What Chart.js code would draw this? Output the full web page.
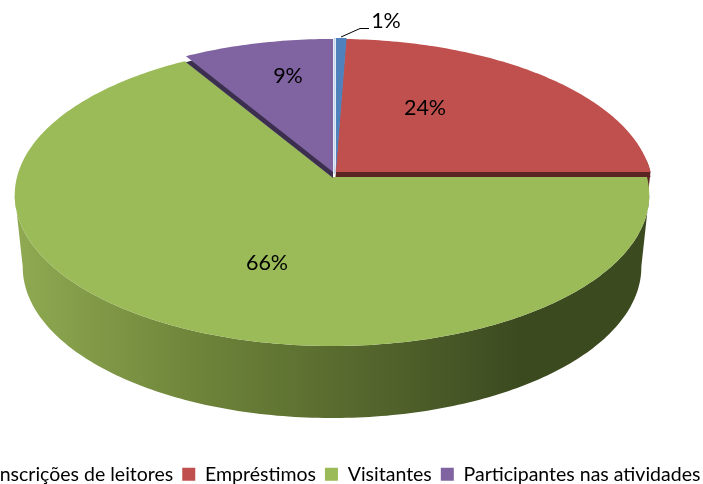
<!DOCTYPE html>
<html>
<head>
<meta charset="utf-8">
<script src="https://cdn.jsdelivr.net/npm/chart.js@4/dist/chart.umd.min.js"></script>
<style>
html, body { margin: 0; padding: 0; background: #fff; overflow: hidden; width: 703px; height: 484px; }
#wrap { position: absolute; left: -44px; top: 0; width: 760px; height: 484px; }
</style>
</head>
<body>
<div id="wrap"><canvas id="pieChart" width="760" height="484"></canvas></div>
<script>
// data
const categories = ['Inscrições de leitores', 'Empréstimos', 'Visitantes', 'Participantes nas atividades'];
const values = [0.6, 24.4, 66.4, 8.6];
const colors = ['#4f81bd', '#c0504d', '#9bbb59', '#8064a2'];

// canvas is wider than the window so the legend runs off the left edge
const SHIFT = 44;

// perspective of the tilted disc
const A = 315, B = 148.9, K = 0.119;
const WALL = 72;
const apex = [[336, 171], [335.5, 172], [332, 177], [333, 172]];
const labelAt = [[386, 21], [425, 108], [267, 263], [288, 76]];

function project(angle, i) {
    const u = Math.cos(angle), v = Math.sin(angle);
    const w = 1 - K * v;
    return [apex[i][0] + SHIFT + A * u / w, apex[i][1] + B * v / w];
}

function rim(el, i) {
    const pts = [];
    const n = Math.max(4, Math.ceil((el.endAngle - el.startAngle) * 60));
    for (let s = 0; s <= n; s++) {
        pts.push(project(el.startAngle + (el.endAngle - el.startAngle) * s / n, i));
    }
    return pts;
}

function wedge(ctx, pts, i, dy, fill) {
    ctx.beginPath();
    ctx.moveTo(apex[i][0] + SHIFT, apex[i][1] + dy);
    pts.forEach(p => ctx.lineTo(p[0], p[1] + dy));
    ctx.closePath();
    ctx.fillStyle = fill;
    ctx.fill();
}

// only the part of the rim between its right and left extremes faces the viewer
function frontRim(pts) {
    const xs = pts.map(p => p[0]);
    return pts.slice(xs.indexOf(Math.max(...xs)), xs.indexOf(Math.min(...xs)) + 1);
}

// side wall hanging under a piece of the rim, slightly narrower at the foot
function wall(ctx, pts, height, fill) {
    const cx = 333 + SHIFT;
    const f = 1 - 0.025 * height / WALL;
    ctx.beginPath();
    for (let s = 1; s < pts.length; s++) {
        const p = pts[s - 1], q = pts[s];
        ctx.moveTo(p[0], p[1]);
        ctx.lineTo(q[0], q[1]);
        ctx.lineTo(cx + (q[0] - cx) * f, q[1] + height);
        ctx.lineTo(cx + (p[0] - cx) * f, p[1] + height);
        ctx.closePath();
    }
    ctx.fillStyle = fill;
    ctx.fill();
}

const pie3d = {
    id: 'pie3d',
    afterLayout(chart) {
        // legend sits lower than the layout puts it
        chart.legend.top += 10;
        chart.legend.bottom += 10;
    },
    beforeDatasetsDraw(chart) {
        const ctx = chart.ctx;
        const arcs = chart.getDatasetMeta(0).data;
        const rims = arcs.map((el, i) => rim(el.getProps(['startAngle', 'endAngle'], true), i));

        ctx.save();
        // red wall peeks out at the right
        const r = rims[1];
        wall(ctx, r.slice(-6), 24, '#5a2523');

        const g = ctx.createLinearGradient(14 + SHIFT, 0, 648 + SHIFT, 0);
        g.addColorStop(0, '#90aa52');
        g.addColorStop(0.3, '#6d8339');
        g.addColorStop(0.55, '#55672d');
        g.addColorStop(0.8, '#3c4a20');
        g.addColorStop(1, '#3c4a20');
        wall(ctx, frontRim(rims[2]), WALL, g);

        wedge(ctx, rims[2], 2, 0, colors[2]);

        wedge(ctx, rims[3], 3, 6, '#3b2e4e');
        wedge(ctx, rims[3], 3, 0, colors[3]);

        wedge(ctx, rims[1], 1, 5, '#5a2523');
        wedge(ctx, rims[1], 1, 0, colors[1]);

        // light bevel on the thin slice
        ctx.lineWidth = 2;
        ctx.strokeStyle = '#c6d6ea';
        wedge(ctx, rims[0], 0, 0, colors[0]);
        ctx.beginPath();
        ctx.moveTo(apex[0][0] + SHIFT - 1.5, apex[0][1] + 3);
        ctx.lineTo(rims[0][0][0] - 1.5, rims[0][0][1]);
        ctx.stroke();

        // leader line of the 1% label
        ctx.lineWidth = 1;
        ctx.strokeStyle = '#000';
        ctx.beginPath();
        ctx.moveTo(341 + SHIFT, 37);
        ctx.lineTo(360 + SHIFT, 28.5);
        ctx.lineTo(369 + SHIFT, 28.5);
        ctx.stroke();

        // percent labels
        const total = values.reduce((a, b) => a + b, 0);
        ctx.fillStyle = '#000';
        ctx.font = '21.5px Lato';
        ctx.textAlign = 'center';
        ctx.textBaseline = 'middle';
        values.forEach((v, i) => {
            ctx.fillText(Math.round(v / total * 100) + '%', labelAt[i][0] + SHIFT, labelAt[i][1]);
        });
        ctx.restore();
        return false; // arcs are painted above, in perspective
    }
};

new Chart(document.getElementById('pieChart'), {
    type: 'pie',
    data: {
        labels: categories,
        datasets: [{ data: values, backgroundColor: colors, borderWidth: 0 }]
    },
    options: {
        responsive: false,
        animation: false,
        rotation: 0,
        layout: { padding: 0 },
        plugins: {
            tooltip: { enabled: false },
            legend: {
                position: 'bottom',
                labels: {
                    boxWidth: 13,
                    boxHeight: 13,
                    padding: 9,
                    color: '#000',
                    font: { family: 'Lato', size: 19.5 }
                }
            }
        }
    },
    plugins: [pie3d]
});
</script>
</body>
</html>
